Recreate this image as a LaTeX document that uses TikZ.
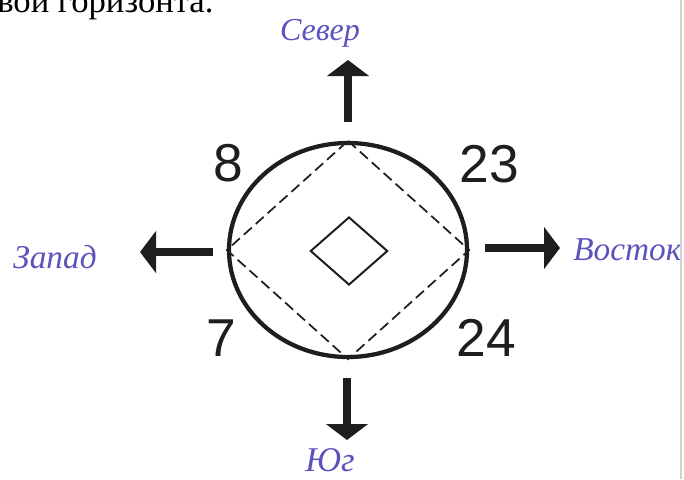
\documentclass[tikz,border=0pt]{standalone}
\usepackage{fontspec}
\setmainfont{Liberation Serif}
\newfontfamily\digitfont{Liberation Sans}
\newfontfamily\handfont{Liberation Serif}
\usepackage{xcolor}
\usetikzlibrary{arrows.meta, positioning, calc, shapes.geometric}

\definecolor{ink}{RGB}{30,30,32}
\definecolor{handink}{RGB}{92,82,190}

\begin{document}
\begin{tikzpicture}[
    x=0.75pt, y=-0.75pt,
    >=Latex,
    num/.style={font=\digitfont\fontsize{40}{40}\selectfont, text=ink, inner sep=0pt},
    hand/.style={font=\handfont\itshape\fontsize{25}{25}\selectfont, text=handink, inner sep=0pt},
    pointer/.style={-{Triangle[length=12pt, width=31pt]}, line width=6pt, draw=ink, fill=ink},
    guide/.style={dashed, dash pattern=on 8pt off 4pt, line width=1.3pt, draw=ink}
]
\useasboundingbox (0,0) rectangle (684,479);

% line of the page above
\node[anchor=base west, inner sep=0pt, font=\fontsize{26}{26}\selectfont] (caption) at (-3,12) {вой горизонта.};

% horizon circle and marks
\node[ellipse, draw=ink, line width=3.2pt, minimum width=178.5pt, minimum height=160.5pt, inner sep=0pt] (rose) at (348,250) {};
\draw[guide] (rose.north) -- (rose.east) -- (rose.south) -- (rose.west) -- cycle;
\node[diamond, draw=ink, line width=1.5pt, minimum width=58pt, minimum height=51pt, inner sep=0pt] (mark) at (349,251) {};

% numbers
\node[num] (n8) at (228,163) {8};
\node[num] (n23) at (489,164) {23};
\node[num] (n7) at (221,338) {7};
\node[num] (n24) at (486,338) {24};

% sides of the horizon
\node[hand, font=\handfont\itshape\fontsize{24}{24}\selectfont] (north) at (320,33) {Север};
\node[hand] (west) at (55,257) {Запад};
\node[hand, anchor=west] (east) at (573,250) {Восток};
\node[hand, font=\handfont\itshape\fontsize{26}{26}\selectfont] (south) at (330,460) {Юг};

% arrows
\coordinate (nfrom) at (348,122);
\coordinate (nto) at (348,60);
\coordinate (wfrom) at (213,252);
\coordinate (wto) at (140,252);
\coordinate (efrom) at (485,248);
\coordinate (eto) at (560,248);
\coordinate (sfrom) at (347,378);
\coordinate (sto) at (347,440);
\draw[pointer] (nfrom) -- (nto);
\draw[pointer] (wfrom) -- (wto);
\draw[pointer] (efrom) -- (eto);
\draw[pointer] (sfrom) -- (sto);

% edge of the scanned page
\draw[gray!35, line width=1.5pt] (681,0) -- (681,479);

\end{tikzpicture}
\end{document}
